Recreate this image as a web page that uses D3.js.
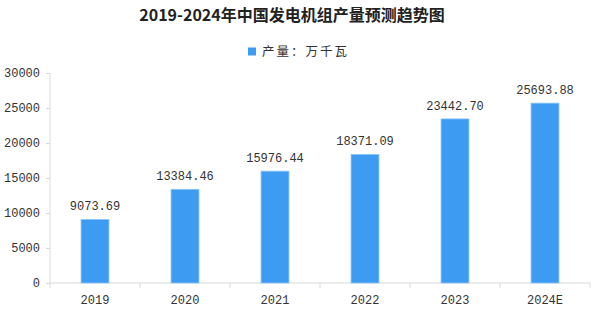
<!DOCTYPE html>
<html><head><meta charset="utf-8">
<script src="https://cdn.jsdelivr.net/npm/d3@7"></script>
<style>body{margin:0;background:#fff}svg{display:block}</style>
</head><body>
<svg id="c" width="600" height="322"></svg>
<script>
const categories = ["2019","2020","2021","2022","2023","2024E"];
const values = [9073.69,13384.46,15976.44,18371.09,23442.70,25693.88];
const yTicks = [0,5000,10000,15000,20000,25000,30000];
const title = "2019-2024年中国发电机组产量预测趋势图";
const legendLabel = "产量：万千瓦";

const svg = d3.select("#c");
const m = {left:50, right:10, top:73, bottom:39};
const W = 600, H = 322;
const x = d3.scaleBand().domain(categories).range([m.left, W - m.right]).paddingInner(0.69).paddingOuter(0.345);
const y = d3.scaleLinear().domain([0,30000]).range([H - m.bottom, m.top]);
const barColor = "#3d9cf2";
const mono = "'Liberation Mono','DejaVu Sans Mono',monospace";

svg.append("text").attr("x", 292).attr("y", 21).attr("text-anchor","middle")
  .attr("font-family","'Noto Sans CJK SC',sans-serif").attr("font-weight","bold")
  .attr("font-size",16).attr("fill","#222").text(title);

const lg = svg.append("g");
lg.append("rect").attr("x",248).attr("y",47.5).attr("width",8).attr("height",8).attr("fill",barColor);
lg.append("text").attr("x",262).attr("y",56).attr("font-family","'Noto Sans CJK SC',sans-serif")
  .attr("font-size",12.5).attr("letter-spacing",2).attr("fill","#333").text(legendLabel);

// y axis
const ya = svg.append("g").attr("transform",`translate(${m.left},0)`)
  .call(d3.axisLeft(y).tickValues(yTicks).tickFormat(d3.format("d")).tickSize(4).tickPadding(6));
ya.selectAll("text").attr("font-family",mono).attr("font-size",12).attr("fill","#333");
ya.selectAll("line").attr("stroke","#d9d9d9");
ya.select(".domain").attr("stroke","#d9d9d9").attr("d",`M0,${y(0)}V${y(30000)}`);

// x axis
const step = x.step();
const xa = svg.append("g").attr("transform",`translate(0,${y(0)})`)
  .call(d3.axisBottom(x).tickSize(0).tickPadding(12));
xa.select(".domain").attr("stroke","#d9d9d9").attr("d",`M${m.left},0H${W-m.right}`);
xa.selectAll("text").attr("font-family",mono).attr("font-size",12).attr("fill","#333");
const bounds = d3.range(categories.length + 1).map(i => m.left + i*step);
svg.append("g").selectAll("line").data(bounds).join("line")
  .attr("x1",d=>d).attr("x2",d=>d).attr("y1",y(0)).attr("y2",y(0)+5).attr("stroke","#d9d9d9");

// bars
svg.append("g").selectAll("rect").data(values).join("rect")
  .attr("x",(d,i)=>x(categories[i])).attr("width",x.bandwidth())
  .attr("y",d=>y(d)).attr("height",d=>y(0)-y(d))
  .attr("fill",barColor).attr("stroke","#8cc4f7").attr("stroke-width",0.8);

svg.append("g").selectAll("text").data(values).join("text")
  .attr("x",(d,i)=>x(categories[i]) + x.bandwidth()/2).attr("y",d=>y(d)-9)
  .attr("text-anchor","middle").attr("font-family",mono).attr("font-size",12).attr("fill","#333")
  .text(d=>d.toFixed(2));
</script>
</body></html>
